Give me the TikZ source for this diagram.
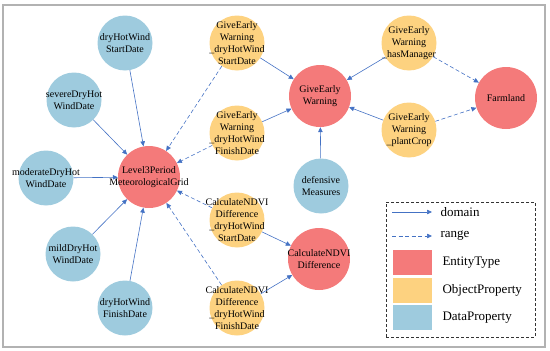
\documentclass[tikz,border=0pt]{standalone}
\usepackage{fontspec}
\setmainfont{Liberation Serif}
\usetikzlibrary{arrows.meta}
\definecolor{entc}{RGB}{244,122,122}
\definecolor{objc}{RGB}{253,210,128}
\definecolor{datc}{RGB}{158,203,222}
\definecolor{arrc}{RGB}{68,114,196}
\begin{document}
\begin{tikzpicture}[x=1pt,y=-1pt,every node/.style={font=\fontsize{10}{12}\selectfont},>={Triangle[length=5pt,width=4.5pt]},
  lbl/.style={align=center,inner sep=0pt},
  ent/.style={circle,fill=entc,minimum size=62pt,inner sep=0pt,label={[lbl]center:#1}},
  obj/.style={circle,fill=objc,minimum size=55pt,inner sep=0pt,label={[lbl]center:#1}},
  dat/.style={circle,fill=datc,minimum size=55pt,inner sep=0pt,label={[lbl]center:#1}},
  dom/.style={->,draw=arrc,line width=0.6pt},
  rng/.style={dom,dash pattern=on 4pt off 2.5pt},
  legtxt/.style={anchor=west,font=\fontsize{13}{15}\selectfont}]
\useasboundingbox (0,0) rectangle (550,351);
\draw[black!30,line width=1.5pt] (3,5) rectangle (545,347);
% entity types
\node[ent={Level3Period\\MeteorologicalGrid}] (lvl) at (149,177) {};
\node[ent={GiveEarly\\Warning}] (gew) at (320,96) {};
\node[ent={Farmland}] (farm) at (506,98) {};
\node[ent={CalculateNDVI\\Difference}] (cnd) at (319,259) {};
% data properties
\node[dat={dryHotWind\\StartDate}] (dhs) at (125,43) {};
\node[dat={severeDryHot\\WindDate}] (sev) at (74,100) {};
\node[dat={moderateDryHot\\WindDate}] (mod) at (46,178) {};
\node[dat={mildDryHot\\WindDate}] (mild) at (73,254) {};
\node[dat={dryHotWind\\FinishDate}] (dhf) at (125,308) {};
\node[dat={defensive\\Measures}] (def) at (321,186) {};
% object properties
\node[obj={GiveEarly\\Warning\\\_dryHotWind\\StartDate}] (gews) at (237,43) {};
\node[obj={GiveEarly\\Warning\\\_dryHotWind\\FinishDate}] (gewf) at (237,133) {};
\node[obj={CalculateNDVI\\Difference\\\_dryHotWind\\StartDate}] (cnds) at (237,220) {};
\node[obj={CalculateNDVI\\Difference\\\_dryHotWind\\FinishDate}] (cndf) at (237,308) {};
\node[obj={GiveEarly\\Warning\\\_hasManager}] (gewm) at (409,43) {};
\node[obj={GiveEarly\\Warning\\\_plantCrop}] (gewp) at (409,130) {};
% domain
\draw[dom] (dhs) -- (lvl);
\draw[dom] (sev) -- (lvl);
\draw[dom] (mod) -- (lvl);
\draw[dom] (mild) -- (lvl);
\draw[dom] (dhf) -- (lvl);
\draw[dom] (def) -- (gew);
\draw[dom] (gews) -- (gew);
\draw[dom] (gewf) -- (gew);
\draw[dom] (gewm) -- (gew);
\draw[dom] (gewp) -- (gew);
\draw[dom] (cnds) -- (cnd);
\draw[dom] (cndf) -- (cnd);
% range
\draw[rng] (gews) -- (lvl);
\draw[rng] (gewf) -- (lvl);
\draw[rng] (cnds) -- (lvl);
\draw[rng] (cndf) -- (lvl);
\draw[rng] (gewm) -- (farm);
\draw[rng] (gewp) -- (farm);
% legend
\node[draw=black!80,dash pattern=on 3pt off 2pt,line width=0.9pt,minimum width=149pt,minimum height=135pt] (leg) at (460.5,269.5) {};
\coordinate (d0) at (392,212);
\coordinate (d1) at (432,212);
\coordinate (r0) at (392,236);
\coordinate (r1) at (432,236);
\draw[dom] (d0) -- (d1);
\draw[rng] (r0) -- (r1);
\node[legtxt] (tdom) at (437,212) {domain};
\node[legtxt] (trng) at (437,236) {range};
\node[fill=entc,minimum width=39pt,minimum height=25pt,inner sep=0pt] (sent) at (412.5,262.5) {};
\node[fill=objc,minimum width=39pt,minimum height=25pt,inner sep=0pt] (sobj) at (412.5,290.5) {};
\node[fill=datc,minimum width=39pt,minimum height=25pt,inner sep=0pt] (sdat) at (412.5,317.5) {};
\node[legtxt] (tent) at (439,263) {EntityType};
\node[legtxt] (tobj) at (439,290) {ObjectProperty};
\node[legtxt] (tdat) at (439,318) {DataProperty};
\end{tikzpicture}
\end{document}
